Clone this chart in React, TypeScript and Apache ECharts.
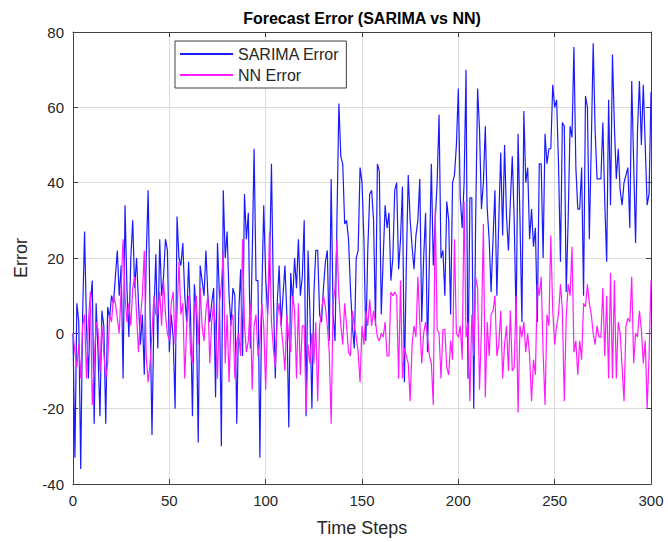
import React, { useEffect, useRef } from "react";
import * as echarts from "echarts";

const sarimaError: number[] = [
  0, -33, 8, 3, -36, 5, 27, 2, -12, 8,
  14, -24, 8, -5, -22, 6, 2, -24, 7, 4,
  10, 8, 15, 22, 10, 18, -12, 34, 12, -1,
  20, 30, 12, 20, 8, -3, 5, -11, 20, 38,
  5, -27, 5, 21, -4, 25, 10, 15, 25, 22,
  -5, 5, -1, -20, 31, 20, 18, 24, 10, 3,
  19, 5, -22, 13, 5, -29, 18, 14, 10, 22,
  10, 3, 8, 12, -17, 24, 10, -30, 38, 20,
  27, 10, 2, 12, 10, -24, 5, 17, -6, 37,
  25, 32, -4, 20, 49, 14, 14, -33, 10, 34,
  15, 5, 17, 45, 10, -12, 8, 18, 2, 10,
  18, 5, -25, 16, 8, 20, 12, 25, 10, 15,
  30, -22, 22, 5, -20, 10, 22, 22, 5, 3,
  12, 19, 22, -2, 41, 5, -2, 30, 61, 47,
  45, 29, 30, 25, 12, 2, -4, 20, 22, 44,
  40, 25, -2, 22, 37, 38, 30, 2, 45, 43,
  5, 20, 34, 28, 32, 14, 20, 38, 40, 17,
  25, 39, -13, 18, 42, 30, 23, 17, 26, 30,
  41, 3, 20, 32, -5, 20, 45, 18, 30, 40,
  58, 20, 22, 10, 35, 30, 5, 40, 42, 50,
  65, 36, 28, 40, 70, -12, 36, 36, -20, 30,
  65, 54, 33, 40, 55, 33, 25, 11, 25, 38,
  10, 30, 48, 26, 50, 31, 22, 35, 47, 30,
  3, 53, 30, 3, 59, 40, 44, 25, 33, 23,
  28, 3, 45, 45, 20, 53, 45, 49, 49, 66,
  60, 62, 45, 19, 56, 55, 11, 30, 55, 52,
  76, 44, 33, 33, 44, 10, 63, 60, 25, 50,
  77, 54, 41, 41, 41, 56, 35, 19, 62, 34,
  74, 55, 41, 49, 38, 34, 40, 42, 44, 28,
  67, 45, 24, 54, 67, 50, 66, 50, 34, 37,
  64,
];

const nnError: number[] = [
  0, -5, -9, -3, -12, 2, 5, -12, 3, 11,
  -19, -8, 3, 1, -10, 2, -5, -12, -8, 5,
  3, 10, 8, 4, 0, 12, 25, 10, 3, 8,
  2, 12, 15, 5, -5, 4, 10, 22, -6, -13,
  -8, 0, 10, 5, 5, 11, 2, 14, 5, 0,
  -2, 8, 11, -3, 5, 19, 5, 8, -12, 2,
  10, -5, -8, 6, 10, -3, 12, 2, -2, 6,
  10, -8, 3, 8, 2, -12, 8, 13, 22, -8,
  5, -13, 3, 5, -12, -2, 0, -6, 25, 2,
  -5, -2, 8, -15, 2, 5, -6, -2, 8, 2,
  -15, 5, 27, 3, -4, -9, 4, 8, 2, -3,
  -10, 5, -1, -5, 10, 6, -12, 8, -11, 2,
  2, -21, -3, -8, 0, -8, 3, -18, 2, 6,
  10, 7, 2, -5, -24, 8, 12, 25, 10, 2,
  -3, 8, 2, -5, -6, 6, 2, -1, -5, -13,
  2, -3, 6, 2, 9, 2, 6, 3, -1, -2,
  0, -1, 3, -6, -6, 11, 10, 11, 10, -12,
  14, -12, -4, -6, -8, -18, -3, 2, -1, 15,
  3, -8, 0, 3, -1, -6, -8, -19, 33, 1,
  0, -12, 1, 1, -9, -11, -2, -7, 25, 0,
  -1, 2, -7, 35, -1, 3, -18, 5, -6, 15,
  12, -15, 1, 29, -17, 3, -6, 5, 6, 10,
  -6, -3, 6, -12, -3, 2, -10, 6, -10, -9,
  10, -21, 2, -1, 3, -5, 0, -6, -18, -7,
  -11, 13, 10, 15, -5, -19, 5, 2, 26, 6,
  -3, 2, 5, 13, 6, -18, 4, 13, 10, 23,
  -5, -2, -11, -2, -7, 8, 7, 13, 8, 5,
  0, -3, 2, -1, -1, 12, -6, 10, -12, 16,
  -12, 14, -12, 3, 0, -9, -18, 2, 4, 3,
  15, -8, 0, -1, 6, 1, -8, -2, -20, -6,
  14,
];

const seriesNames = ["SARIMA Error", "NN Error"];
const xTicks = { min: 0, max: 300, interval: 50 };
const yTicks = { min: -40, max: 80, interval: 20 };
const titleText = "Forecast Error (SARIMA vs NN)";
const xLabel = "Time Steps";
const yLabel = "Error";

const FONT = "'Liberation Sans', Arial, Helvetica, sans-serif";
const TXT = "#262626";

export default function App() {
  const ref = useRef<HTMLDivElement>(null);
  useEffect(() => {
    if (!ref.current) return;
    const chart = echarts.init(ref.current, undefined, { renderer: "svg" });
    const toPairs = (arr: number[]) => arr.map((v, i) => [i, v]);
    const gridL = 73, gridR = 17, gridT = 32, gridB = 57;
    const mkX = (pos: "bottom" | "top", labels: boolean) => ({
      type: "value",
      position: pos,
      min: xTicks.min,
      max: xTicks.max,
      interval: xTicks.interval,
      name: labels ? xLabel : "",
      nameLocation: "middle",
      nameGap: 35,
      nameTextStyle: { fontSize: 18, color: TXT, fontFamily: FONT },
      axisLine: { show: true, onZero: false, lineStyle: { color: "#404040", width: 1 } },
      axisTick: { show: true, inside: true, length: 5, lineStyle: { color: "#404040" } },
      axisLabel: { show: labels, fontSize: 15, color: TXT, fontFamily: FONT, margin: 9 },
      splitLine: { show: labels, lineStyle: { color: "#dcdcdc", width: 1 } },
    });
    const mkY = (pos: "left" | "right", labels: boolean) => ({
      type: "value",
      position: pos,
      min: yTicks.min,
      max: yTicks.max,
      interval: yTicks.interval,
      name: labels ? yLabel : "",
      nameLocation: "middle",
      nameGap: 43,
      nameTextStyle: { fontSize: 18, color: TXT, fontFamily: FONT },
      axisLine: { show: true, onZero: false, lineStyle: { color: "#404040", width: 1 } },
      axisTick: { show: true, inside: true, length: 5, lineStyle: { color: "#404040" } },
      axisLabel: { show: labels, fontSize: 15, color: TXT, fontFamily: FONT, margin: 9 },
      splitLine: { show: labels, lineStyle: { color: "#dcdcdc", width: 1 } },
    });
    chart.setOption({
      animation: false,
      backgroundColor: "#ffffff",
      grid: { left: gridL, right: gridR, top: gridT, bottom: gridB, containLabel: false },
      xAxis: [mkX("bottom", true), mkX("top", false)],
      yAxis: [mkY("left", true), mkY("right", false)],
      legend: {
        orient: "vertical",
        left: 175,
        top: 41,
        backgroundColor: "#ffffff",
        borderColor: "#404040",
        borderWidth: 1,
        borderRadius: 0,
        padding: [5, 7, 5, 5],
        itemGap: 5,
        itemWidth: 53,
        itemHeight: 2,
        icon: "rect",
        textStyle: { fontSize: 16, color: TXT, fontFamily: FONT, padding: [0, 0, 0, 0] },
        data: seriesNames,
      },
      graphic: [
        {
          type: "text",
          x: 362,
          y: 18,
          style: {
            text: titleText,
            fontSize: 16,
            fontWeight: "bold",
            fontFamily: FONT,
            fill: "#000000",
            textAlign: "center",
            textVerticalAlign: "middle",
          },
        },
      ],
      series: [
        {
          name: seriesNames[0],
          type: "line",
          data: toPairs(sarimaError),
          showSymbol: false,
          symbol: "none",
          color: "#1a1aff",
          lineStyle: { width: 1.2, color: "#1a1aff" },
          xAxisIndex: 0,
          yAxisIndex: 0,
        },
        {
          name: seriesNames[1],
          type: "line",
          data: toPairs(nnError),
          showSymbol: false,
          symbol: "none",
          color: "#ff1aff",
          lineStyle: { width: 1.2, color: "#ff1aff" },
          xAxisIndex: 0,
          yAxisIndex: 0,
        },
      ],
    });
    return () => chart.dispose();
  }, []);
  return (
    <div
      ref={ref}
      style={{ position: "absolute", left: 0, top: 0, width: 668, height: 542, background: "#fff" }}
    />
  );
}
